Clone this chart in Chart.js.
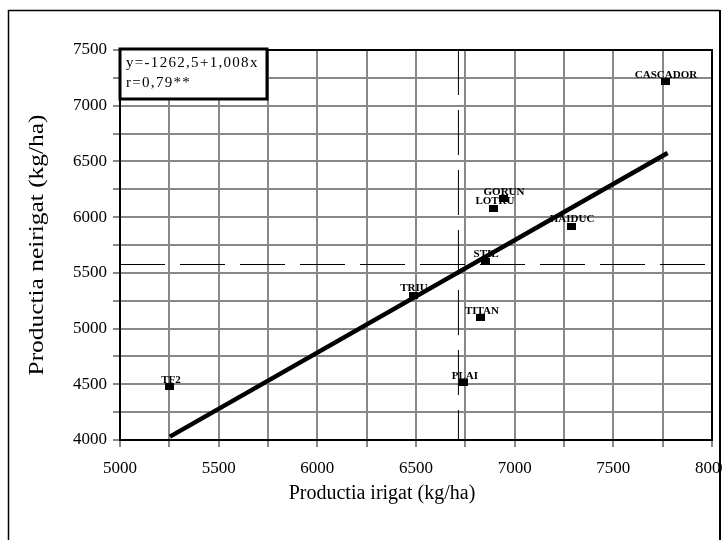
<!DOCTYPE html>
<html><head><meta charset="utf-8">
<script src="https://cdn.jsdelivr.net/npm/chart.js@4/dist/chart.umd.min.js"></script>
<style>html,body{margin:0;padding:0;background:#fff}canvas{display:block}</style>
</head><body>
<canvas id="c" width="722" height="540"></canvas>
<script>
// ---- data ----
const cultivars = ['TF2','TRIU','PLAI','TITAN','STIL','LOTRU','GORUN','HAIDUC','CASCADOR'];
const irigat   = [5253, 6485, 6743, 6829, 6850, 6895, 6941, 7286, 7762];
const neirigat = [4476, 5301, 4512, 5095, 5606, 6082, 6163, 5920, 7213];
const regressionX = [5253, 7775];
const regressionY = [4030, 6575];
const meanIrigatX = [6715, 6715];
const meanIrigatY = [7500, 4000];
const meanNeirigatX = [5000, 8000];
const meanNeirigatY = [5575, 5575];
const xTickLabels = ['5000','5500','6000','6500','7000','7500','8000'];
const yTickLabels = ['4000','4500','5000','5500','6000','6500','7000','7500'];
const equationLines = ['y=-1262,5+1,008x', 'r=0,79**'];
const xTitle = 'Productia irigat (kg/ha)';
const yTitle = 'Productia neirigat (kg/ha)';

const SERIF = '"Liberation Serif", "Times New Roman", serif';
const GRID = '#888888';

// square marker
const marker = document.createElement('canvas');
marker.width = 9; marker.height = 7;
(function(){ const m = marker.getContext('2d'); m.fillStyle = '#000'; m.fillRect(0,0,9,7); })();

const pts = (xs, ys) => xs.map((x, i) => ({x: x, y: ys[i]}));

const labelsPlugin = {
  id: 'pointLabels',
  beforeDatasetsDraw(chart) {
    const ctx = chart.ctx, xs = chart.scales.x, ys = chart.scales.y;
    ctx.save();
    ctx.font = 'bold 11px ' + SERIF;
    ctx.fillStyle = '#000';
    ctx.textAlign = 'center';
    ctx.textBaseline = 'alphabetic';
    cultivars.forEach((name, i) => {
      const px = xs.getPixelForValue(irigat[i]);
      const py = ys.getPixelForValue(neirigat[i]);
      ctx.fillText(name, px + 1, py - 4);
    });
    const a = chart.chartArea;
    ctx.strokeStyle = '#000';
    ctx.lineWidth = 2;
    ctx.strokeRect(a.left, a.top, a.right - a.left, a.bottom - a.top);
    ctx.restore();
  }
};

const decorPlugin = {
  id: 'decor',
  afterDatasetsDraw(chart) {
    const ctx = chart.ctx;
    ctx.save();
    ctx.fillStyle = '#fff';
    ctx.fillRect(120, 49, 147, 50);
    ctx.strokeStyle = '#000';
    ctx.lineWidth = 3;
    ctx.strokeRect(120, 49, 147, 50);
    ctx.fillStyle = '#000';
    ctx.font = '15px ' + SERIF;
    try { ctx.letterSpacing = '1.3px'; } catch (e) {}
    ctx.textAlign = 'left';
    ctx.textBaseline = 'alphabetic';
    ctx.fillText(equationLines[0], 126, 67);
    ctx.fillText(equationLines[1], 126, 87);
    ctx.restore();
  },
  afterDraw(chart) {
    const ctx = chart.ctx;
    ctx.save();
    // axis titles
    ctx.fillStyle = '#000';
    ctx.textAlign = 'center';
    ctx.textBaseline = 'middle';
    ctx.font = '20px ' + SERIF;
    ctx.fillText(xTitle, 382, 494);
    ctx.save();
    ctx.translate(38, 245);
    ctx.rotate(-Math.PI / 2);
    ctx.scale(1.27, 1);
    ctx.fillText(yTitle, 0, 0);
    ctx.restore();
    // outer frame
    ctx.strokeStyle = '#000';
    ctx.lineWidth = 1.5;
    ctx.beginPath();
    ctx.moveTo(8.5, 545); ctx.lineTo(8.5, 10.5); ctx.lineTo(720, 10.5);
    ctx.stroke();
    ctx.lineWidth = 2;
    ctx.beginPath();
    ctx.moveTo(720, 10); ctx.lineTo(720, 545);
    ctx.stroke();
    ctx.restore();
  }
};

new Chart(document.getElementById('c'), {
  type: 'scatter',
  data: {
    datasets: [
      {
        label: 'cultivars',
        data: pts(irigat, neirigat),
        pointStyle: marker,
        pointRadius: 5,
        pointHoverRadius: 5,
        backgroundColor: '#000',
        borderColor: '#000',
        showLine: false
      },
      {
        label: 'regression',
        data: pts(regressionX, regressionY),
        showLine: true,
        borderColor: '#000',
        borderWidth: 4.5,
        pointRadius: 0,
        borderCapStyle: 'butt'
      },
      {
        label: 'mean irigat',
        data: pts(meanIrigatX, meanIrigatY),
        showLine: true,
        borderColor: '#000',
        borderWidth: 1,
        borderDash: [45, 15],
        pointRadius: 0
      },
      {
        label: 'mean neirigat',
        data: pts(meanNeirigatX, meanNeirigatY),
        showLine: true,
        borderColor: '#000',
        borderWidth: 1,
        borderDash: [45, 15],
        pointRadius: 0
      }
    ]
  },
  options: {
    responsive: false,
    devicePixelRatio: 1,
    animation: false,
    events: [],
    layout: { padding: { top: 50, right: 10, bottom: 0, left: 0 } },
    plugins: { legend: { display: false }, tooltip: { enabled: false } },
    scales: {
      x: {
        type: 'linear',
        min: 5000, max: 8000,
        afterBuildTicks(s) {
          const t = [];
          for (let v = 5000; v <= 8000; v += 250) t.push({value: v});
          s.ticks = t;
        },
        ticks: {
          autoSkip: false,
          maxRotation: 0,
          color: '#000',
          font: { family: SERIF, size: 17 },
          padding: 11,
          callback: (v) => xTickLabels.includes(String(v)) ? String(v) : ''
        },
        grid: { color: GRID, lineWidth: 2, tickLength: 7, tickColor: GRID, tickWidth: 2 },
        border: { display: false },
        title: { display: false, text: xTitle },
        afterFit(s) { s.height = 100; s.paddingLeft = 0; s.paddingRight = 0; }
      },
      y: {
        type: 'linear',
        min: 4000, max: 7500,
        afterBuildTicks(s) {
          const t = [];
          for (let v = 4000; v <= 7500; v += 250) t.push({value: v});
          s.ticks = t;
        },
        ticks: {
          autoSkip: false,
          color: '#000',
          font: { family: SERIF, size: 17 },
          padding: 6,
          callback: (v) => yTickLabels.includes(String(v)) ? String(v) : ''
        },
        grid: { color: GRID, lineWidth: 2, tickLength: 7, tickColor: GRID, tickWidth: 2 },
        border: { display: false },
        title: { display: false, text: yTitle },
        afterFit(s) { s.width = 120; s.paddingTop = 0; s.paddingBottom = 0; }
      }
    }
  },
  plugins: [labelsPlugin, decorPlugin]
});
</script>
</body></html>
